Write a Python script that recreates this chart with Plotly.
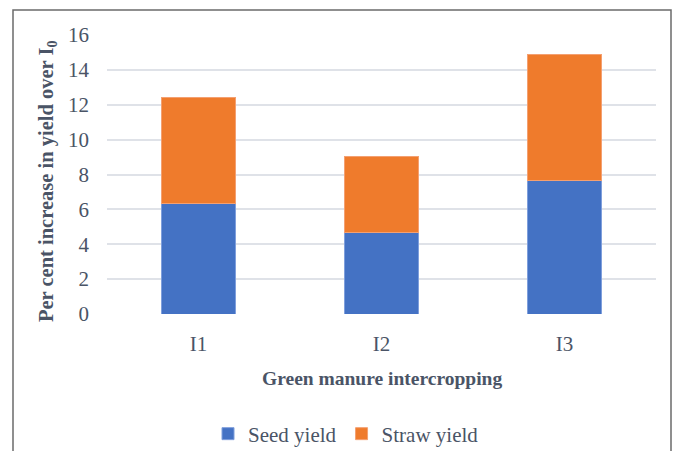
import plotly.graph_objects as go

categories = ["I1", "I2", "I3"]
seed_yield = [6.35, 4.69, 7.63]
straw_yield = [6.04, 4.33, 7.27]
y_ticks = [0, 2, 4, 6, 8, 10, 12, 14, 16]

text_color = "#4a5466"
serif = "Liberation Serif"

# page offset caused by the default body margin
OFF = 8
W, H = 680 - 2 * OFF, 459 - 2 * OFF
# plot area in page pixels (from the reference)
PL, PR, PT, PB = 107, 656, 35, 314
L, R, T, B = PL - OFF, W - (PR - OFF), PT - OFF, H - (PB - OFF)
pw, ph = W - L - R, H - T - B

def px_x(x):
    return (x - PL) / pw

def px_y(y):
    return (PB - y) / ph

fig = go.Figure()
fig.add_trace(go.Bar(x=categories, y=seed_yield, name="Seed yield",
                     marker=dict(color="#4472c4", line=dict(color="#7f9fdc", width=1))))
fig.add_trace(go.Bar(x=categories, y=straw_yield, name="Straw yield",
                     marker=dict(color="#ef7b2c", line=dict(color="#f4a071", width=1))))

fig.update_layout(
    barmode="stack",
    bargap=0.6,
    width=W, height=H,
    margin=dict(l=L, r=R, t=T, b=B, autoexpand=False),
    paper_bgcolor="white",
    plot_bgcolor="white",
    font=dict(family=serif, color=text_color, size=21),
    showlegend=True,
    legend=dict(orientation="h", x=px_x(346), xanchor="center", y=px_y(434), yanchor="middle",
                font=dict(family=serif, size=21, color=text_color), itemwidth=30,
                traceorder="normal"),
    xaxis=dict(showgrid=False, showline=False, ticks="", ticklabelstandoff=15,
               tickfont=dict(family=serif, size=21, color=text_color)),
    yaxis=dict(range=[0, 16], tickvals=y_ticks, showgrid=True, gridcolor="#dfe2e8", gridwidth=1.5,
               zeroline=False, showline=False, ticks="", ticklabelstandoff=17,
               tickfont=dict(family=serif, size=21, color=text_color)),
    annotations=[
        dict(text="<b>Green manure intercropping</b>", xref="paper", yref="paper",
             x=0.5, y=px_y(378), xanchor="center", yanchor="middle", showarrow=False,
             font=dict(size=19.5, color=text_color, family=serif)),
        dict(text="<b>Per cent increase in yield over I<sub>0</sub></b>", xref="paper", yref="paper",
             x=px_x(47), y=px_y(181), xanchor="center", yanchor="middle", textangle=-90,
             showarrow=False, font=dict(size=20.5, color=text_color, family=serif)),
    ],
    shapes=[
        dict(type="rect", xref="paper", yref="paper",
             x0=px_x(13), x1=px_x(671), y0=px_y(470), y1=px_y(10),
             line=dict(color="#6b6b6b", width=1.5), fillcolor="rgba(0,0,0,0)", layer="below"),
    ],
)

fig.write_html("out.html")
